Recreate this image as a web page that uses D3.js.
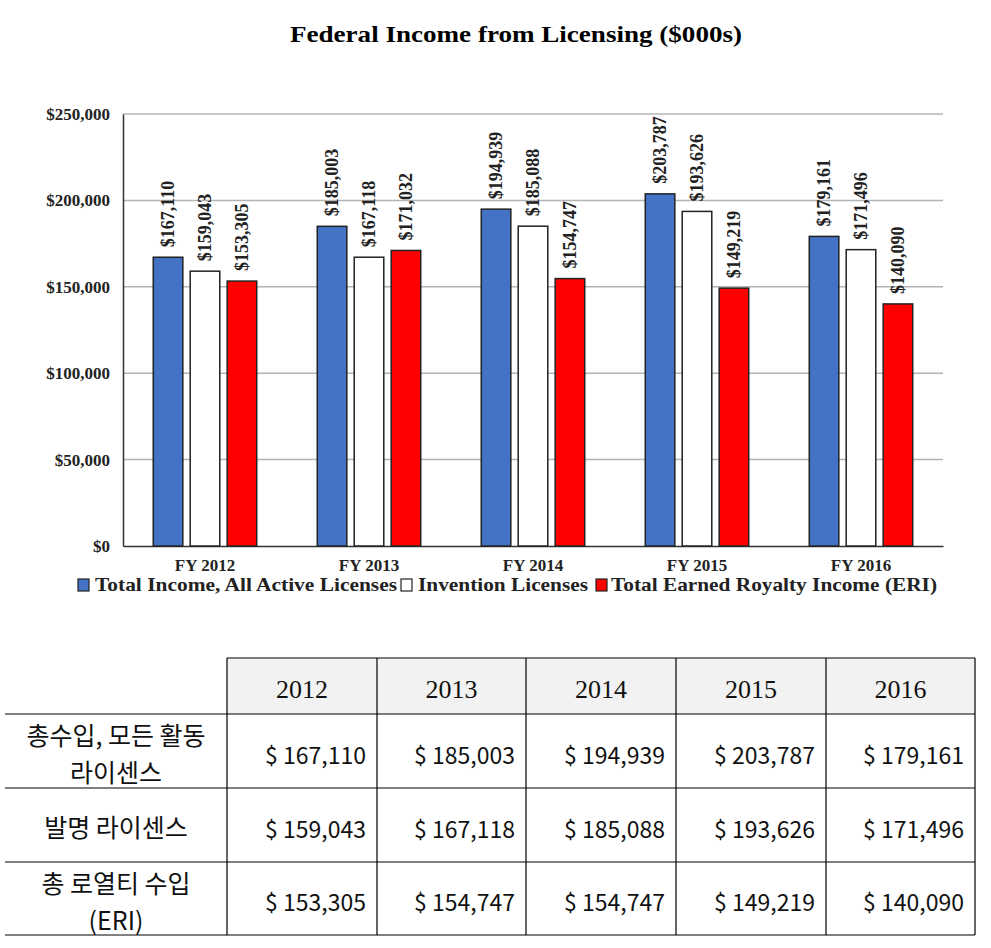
<!DOCTYPE html>
<html><head><meta charset="utf-8">
<script src="https://cdn.jsdelivr.net/npm/d3@7"></script>
<style>body{margin:0;background:#fff}svg{display:block}</style>
</head><body>
<script>
const categories = ["FY 2012","FY 2013","FY 2014","FY 2015","FY 2016"];
const seriesNames = ["Total Income, All Active Licenses","Invention Licenses","Total Earned Royalty Income (ERI)"];
const totalIncome = [167110,185003,194939,203787,179161];
const inventionLicenses = [159043,167118,185088,193626,171496];
const royaltyIncome = [153305,171032,154747,149219,140090];
const yTicks = [0,50000,100000,150000,200000,250000];
const chartTitle = "Federal Income from Licensing ($000s)";

const tableYears = ["2012","2013","2014","2015","2016"];
const tableRowLabels = [["총수입, 모든 활동","라이센스"],["발명 라이센스"],["총 로열티 수입","(ERI)"]];
const tableTotal = ["$ 167,110","$ 185,003","$ 194,939","$ 203,787","$ 179,161"];
const tableInvention = ["$ 159,043","$ 167,118","$ 185,088","$ 193,626","$ 171,496"];
const tableRoyalty = ["$ 153,305","$ 154,747","$ 154,747","$ 149,219","$ 140,090"];

const colors = ["#4472C4","#FFFFFF","#FF0000"];
const serif = "'Liberation Serif','Times New Roman',serif";
const W = 991, H = 948;
const svg = d3.select("body").append("svg").attr("width",W).attr("height",H);

// Title
svg.append("text").attr("x",516).attr("y",42).attr("text-anchor","middle")
  .attr("font-family",serif).attr("font-weight","bold").attr("font-size",24)
  .attr("textLength",452).attr("lengthAdjust","spacingAndGlyphs")
  .text(chartTitle);

const plot = {l:123, r:943, t:114, b:546};
const y = d3.scaleLinear().domain([0,250000]).range([plot.b,plot.t]);
const x0 = d3.scaleBand().domain(categories).range([plot.l,plot.r]).paddingInner(0.36).paddingOuter(0.18);
const x1 = d3.scaleBand().domain(d3.range(3)).range([0,x0.bandwidth()]).paddingInner(0.2).paddingOuter(0.02);

// gridlines
svg.append("g").selectAll("line").data(yTicks.filter(d=>d>0)).join("line")
  .attr("x1",plot.l).attr("x2",plot.r).attr("y1",d=>y(d)).attr("y2",d=>y(d))
  .attr("stroke","#b4b4b4").attr("stroke-width",1.5);

// y axis
const yAxis = d3.axisLeft(y).tickValues(yTicks).tickSize(0).tickPadding(13)
  .tickFormat(d=>"$"+d3.format(",")(d));
const ga = svg.append("g").attr("transform",`translate(${plot.l},0)`).call(yAxis);
ga.select(".domain").attr("stroke","#333").attr("stroke-width",1.5);
ga.selectAll("text").attr("font-family",serif).attr("font-weight","bold").attr("font-size",17).attr("fill","#222");

// x axis
const xAxis = d3.axisBottom(x0).tickSize(0).tickPadding(13);
const gx = svg.append("g").attr("transform",`translate(0,${plot.b})`).call(xAxis);
gx.select(".domain").attr("stroke","#333").attr("stroke-width",1.5);
gx.selectAll("text").attr("font-family",serif).attr("font-weight","bold").attr("font-size",17).attr("fill","#222");

const seriesVals = [totalIncome,inventionLicenses,royaltyIncome];
const data = [];
categories.forEach((c,i)=>seriesVals.forEach((s,j)=>data.push({c,j,v:s[i]})));

const bars = svg.append("g");
bars.selectAll("rect").data(data).join("rect")
  .attr("x",d=>x0(d.c)+x1(d.j)).attr("width",x1.bandwidth())
  .attr("y",d=>y(d.v)).attr("height",d=>plot.b-y(d.v))
  .attr("fill",d=>colors[d.j]).attr("stroke","#222").attr("stroke-width",1.5);

bars.selectAll("text").data(data).join("text")
  .attr("transform",d=>`translate(${x0(d.c)+x1(d.j)+x1.bandwidth()/2+6},${y(d.v)-10}) rotate(-90)`)
  .attr("font-family",serif).attr("font-weight","bold").attr("font-size",18).attr("fill","#222")
  .text(d=>"$"+d3.format(",")(d.v));

// legend
const legendItems = [{x:78,tx:95,tl:302},{x:401,tx:418,tl:170},{x:596,tx:611,tl:326}];
const lg = svg.append("g");
legendItems.forEach((it,i)=>{
  lg.append("rect").attr("x",it.x).attr("y",579).attr("width",11).attr("height",12)
    .attr("fill",colors[i]).attr("stroke","#222").attr("stroke-width",1.2);
  lg.append("text").attr("x",it.tx).attr("y",591)
    .attr("font-family",serif).attr("font-weight","bold").attr("font-size",19).attr("fill","#222")
    .attr("textLength",it.tl).attr("lengthAdjust","spacingAndGlyphs").text(seriesNames[i]);
});

// table
const colX = [5,227,377,526,676,826,975];
const rowY = [658,714,788,862,935];
const kfont = "'Noto Sans CJK KR','Noto Sans',sans-serif";
const t = svg.append("g");
t.append("rect").attr("x",colX[1]).attr("y",rowY[0]).attr("width",colX[6]-colX[1]).attr("height",rowY[1]-rowY[0]).attr("fill","#f2f2f2");
t.append("line").attr("x1",colX[1]).attr("x2",colX[6]).attr("y1",rowY[0]).attr("y2",rowY[0]).attr("stroke","#000").attr("stroke-width",1.2);
rowY.slice(1).forEach(ry=>t.append("line").attr("x1",colX[0]).attr("x2",colX[6]).attr("y1",ry).attr("y2",ry).attr("stroke","#000").attr("stroke-width",1.2));
colX.slice(1).forEach(cx=>t.append("line").attr("x1",cx).attr("x2",cx).attr("y1",rowY[0]).attr("y2",rowY[4]).attr("stroke","#000").attr("stroke-width",1.2));

tableYears.forEach((yr,i)=>{
  t.append("text").attr("x",(colX[i+1]+colX[i+2])/2).attr("y",(rowY[0]+rowY[1])/2+12)
    .attr("text-anchor","middle").attr("font-family",serif).attr("font-size",26).attr("fill","#111").text(yr);
});
const rowsVals = [tableTotal,tableInvention,tableRoyalty];
rowsVals.forEach((vals,r)=>{
  const cy = (rowY[r+1]+rowY[r+2])/2;
  vals.forEach((v,i)=>{
    t.append("text").attr("x",colX[i+2]-11).attr("y",cy+12.5).attr("text-anchor","end")
      .attr("font-family",kfont).attr("font-size",23).attr("fill","#111").text(v);
  });
  const lines = tableRowLabels[r];
  lines.forEach((ln,k)=>{
    const off = lines.length===1 ? 12 : (k===0 ? -6 : 31);
    t.append("text").attr("x",(colX[0]+colX[1])/2).attr("y",cy+off).attr("text-anchor","middle")
      .attr("font-family",kfont).attr("font-size",25).attr("fill","#111").text(ln);
  });
});
</script>
</body></html>
